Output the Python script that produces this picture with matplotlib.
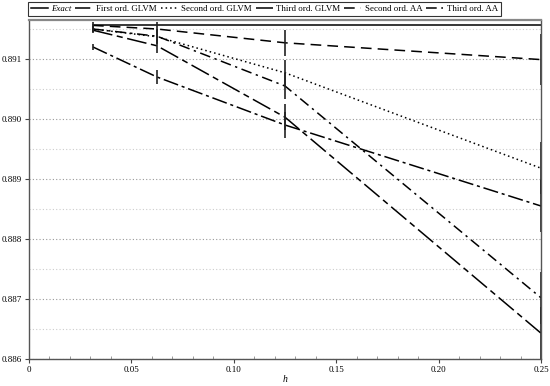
import matplotlib
matplotlib.use("Agg")
import matplotlib.pyplot as plt
from matplotlib.ticker import MultipleLocator, FixedLocator

h = [0.03125, 0.0625, 0.125, 0.25]
exact = [0.89156, 0.89156, 0.89156, 0.89156]
first_glvm = [0.89120, 0.89070, 0.88990, 0.88855]
second_glvm = [0.89150, 0.89137, 0.89077, 0.88918]
third_glvm = [0.89148, 0.89122, 0.89003, 0.88643]
second_aa = [0.89156, 0.89150, 0.89127, 0.89099]
third_aa = [0.89150, 0.89138, 0.89055, 0.88702]
err = [0.00005, 0.00012, 0.00022, 0.00043]

xticks = [0, 0.05, 0.10, 0.15, 0.20, 0.25]
xticklabels = ["0", "0.05", "0.10", "0.15", "0.20", "0.25"]
yticks = [0.886, 0.887, 0.888, 0.889, 0.890, 0.891]
yticklabels = ["0.886", "0.887", "0.888", "0.889", "0.890", "0.891"]

plt.rcParams['font.family'] = ['Liberation Serif', 'DejaVu Serif']

fig = plt.figure(figsize=(5.5, 3.86), dpi=100)
ax = fig.add_axes([29/550, 1-359/386, (541-29)/550, (359-20)/386])

series = [
    ("Exact", exact, "-", None),
    ("First ord. GLVM", first_glvm, (0, (10, 2.5, 2, 2.5)), err),
    ("Second ord. GLVM", second_glvm, (0, (1, 2)), err),
    ("Third ord. GLVM", third_glvm, (0, (13, 3, 4, 3)), err),
    ("Second ord. AA", second_aa, (0, (7, 4)), err),
    ("Third ord. AA", third_aa, (0, (7, 3, 1.5, 3)), err),
]

handles = []
for label, ys, ls, e in series:
    ln, = ax.plot(h, ys, color="black", lw=1.1, linestyle=ls, label=label)
    handles.append(ln)
    if e is not None:
        ax.errorbar(h, ys, yerr=e, fmt="none", ecolor="#222222", elinewidth=1.2, capsize=0)

ax.set_xlim(0, 0.25)
ax.set_ylim(0.886, 0.89165)
ax.xaxis.set_major_locator(FixedLocator(xticks))
ax.set_xticklabels(xticklabels)
ax.xaxis.set_minor_locator(MultipleLocator(0.01))
ax.yaxis.set_major_locator(FixedLocator(yticks))
ax.set_yticklabels(yticklabels)
ax.yaxis.set_minor_locator(MultipleLocator(0.0005))

ax.grid(axis="y", which="major", linestyle=(0, (1, 2)), color="#999999", lw=0.8)
ax.grid(axis="y", which="minor", linestyle=(0, (1, 2)), color="#cccccc", lw=0.8)
ax.tick_params(axis="both", which="major", labelsize=6.5, length=3, width=0.8, color="#444444", pad=2)
ax.tick_params(axis="x", which="minor", direction="in", length=2, width=0.6, color="#888888")
ax.tick_params(axis="y", which="minor", length=0)
for s in ax.spines.values():
    s.set_color("#555555")
    s.set_linewidth(1.0)
ax.spines["top"].set_linewidth(1.6)
ax.spines["top"].set_color("#888888")

ax.set_xlabel("h", fontsize=7, style="italic", labelpad=1)

leg = fig.legend(handles=handles, loc="upper left", bbox_to_anchor=(28/550, 1-2/386),
                 ncol=6, fontsize=6.4, frameon=True, fancybox=False, edgecolor="black",
                 handlelength=1.9, handletextpad=0.4, columnspacing=0.45,
                 borderpad=0.3, borderaxespad=0)
leg.get_frame().set_linewidth(0.8)
leg.get_texts()[0].set_style("italic")

fig.savefig("out.png", dpi=100)
